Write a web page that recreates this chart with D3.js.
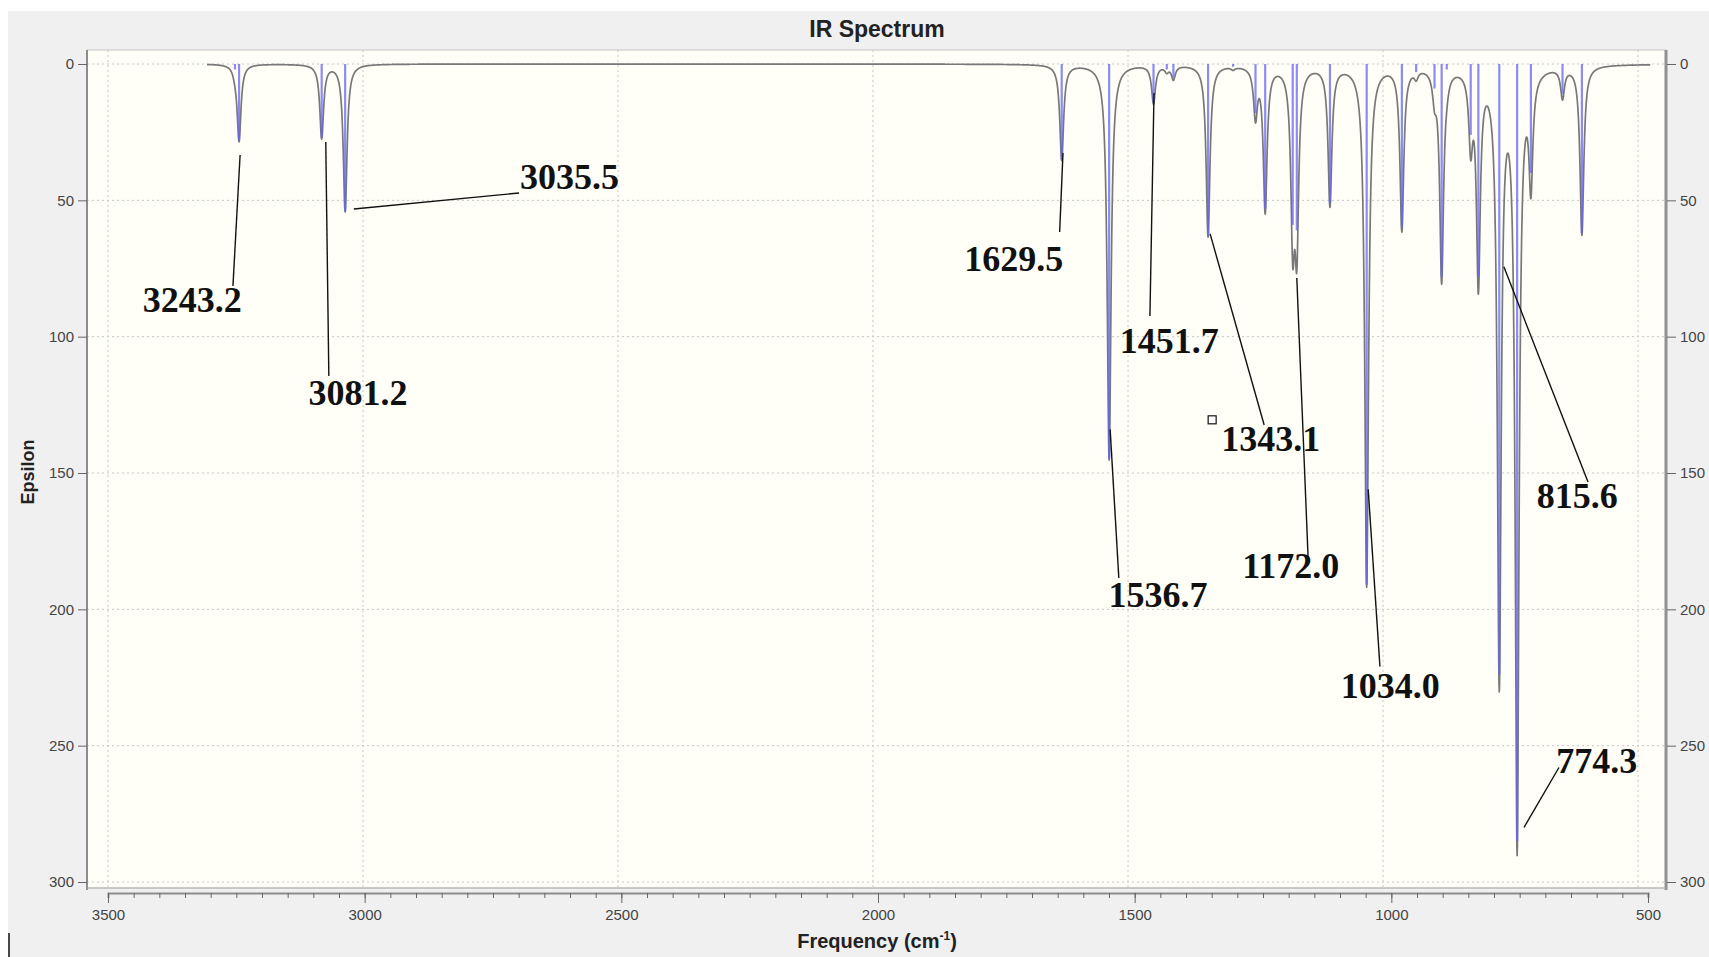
<!DOCTYPE html>
<html>
<head>
<meta charset="utf-8">
<script src="https://cdn.jsdelivr.net/npm/d3@7"></script>
<style>
html, body { margin: 0; padding: 0; background: #fff; }
svg { display: block; }
</style>
</head>
<body>
<svg id="chart" width="1709" height="957"></svg>
<script>
// stick spectrum (cm-1, epsilon)
var freqs   = [3251, 3243, 3081, 3035, 1630, 1537, 1450, 1424, 1411, 1343, 1294, 1250, 1231, 1177, 1169,
               1104, 1032, 963, 935, 899, 885, 875, 828, 813, 772, 737, 710, 648, 610];
var epsilon = [2, 28, 27, 54, 35, 145, 14, 2, 5, 63, 1, 18, 53, 59, 61,
               51, 191, 60, 3, 9, 78, 2, 26, 78, 224, 285, 40, 11, 62];

var xTicks = [3500, 3000, 2500, 2000, 1500, 1000, 500];
var yTicks = [0, 50, 100, 150, 200, 250, 300];

// hand written peak labels: text, label point, leader line ends (data units)
var peakLabels = ["3243.2", "3081.2", "3035.5", "1629.5", "1451.7", "1343.1", "1536.7", "1172.0", "1034.0", "815.6", "774.3"];
var labelAt    = [[3335, 91], [3010, 125], [2595, 46], [1724, 76], [1419, 106], [1220, 142], [1441, 199], [1181, 188.5], [986, 232.5], [619, 163], [581, 260]];
var leaderFrom = [[3241, 33.4], [3073, 28.6], [3018, 53.2], [1627.5, 32.6], [1449, 10.6], [1339, 62.3], [1535, 134], [1169, 78.5], [1029, 156], [763, 74.4], [723.5, 280]];
var leaderTo   = [[3255, 81.4], [3067, 114.4], [2694, 47.3], [1634, 61.6], [1457, 92.4], [1233, 132.4], [1518, 188.5], [1147, 180.4], [1006, 221], [598, 153.3], [655, 258]];

var hwhm = 4.5;            // lorentzian half width, cm-1
var curveRange = [3306, 476];

var svg = d3.select("#chart");
var plot = {left: 87, top: 50, right: 1666, bottom: 888};

// data / grid scale and the (slightly shifted) tick scale of the bottom axis
var x = d3.scaleLinear().domain([3500, 500]).range([108, 1638]);
var xAxisScale = d3.scaleLinear().domain([3500, 500]).range([108, 1648]);
var y = d3.scaleLinear().domain([0, 300]).range([64, 882]);

svg.append("rect").attr("x", 8).attr("y", 11).attr("width", 1701).attr("height", 946).attr("fill", "#f0f0f0");

svg.append("text")
    .attr("x", 877).attr("y", 37)
    .attr("text-anchor", "middle")
    .style("font", "bold 23px 'Liberation Sans', Arial, sans-serif")
    .attr("fill", "#222")
    .text("IR Spectrum");

svg.append("rect")
    .attr("x", plot.left).attr("y", plot.top)
    .attr("width", plot.right - plot.left).attr("height", plot.bottom - plot.top)
    .attr("fill", "#fffff8").attr("stroke", "#c4c4c4");

svg.append("clipPath").attr("id", "clip")
    .append("rect")
    .attr("x", plot.left).attr("y", plot.top)
    .attr("width", plot.right - plot.left).attr("height", plot.bottom - plot.top);

// grid
var grid = svg.append("g").attr("stroke", "#c6c6c6").attr("stroke-dasharray", "2,3");
grid.selectAll("line.v").data(xTicks).enter().append("line")
    .attr("x1", function(d) { return x(d); }).attr("x2", function(d) { return x(d); })
    .attr("y1", plot.top).attr("y2", plot.bottom);
grid.selectAll("line.h").data(yTicks).enter().append("line")
    .attr("y1", function(d) { return y(d); }).attr("y2", function(d) { return y(d); })
    .attr("x1", plot.left).attr("x2", plot.right);

var g = svg.append("g").attr("clip-path", "url(#clip)");

// broadened spectrum built from the sticks
var pts = [];
for (var f = curveRange[0]; f >= curveRange[1]; f -= 0.5) {
    var s = 0;
    freqs.forEach(function(c, i) {
        var u = (f - c) / hwhm;
        s += epsilon[i] / (1 + u * u);
    });
    pts.push([f, s]);
}
g.append("path")
    .datum(pts)
    .attr("fill", "none")
    .attr("stroke", "#787878").attr("stroke-width", 1.7)
    .attr("stroke-linejoin", "round")
    .attr("d", d3.line().x(function(d) { return x(d[0]); }).y(function(d) { return y(d[1]); }));

// sticks
g.selectAll("line.stick").data(freqs).enter().append("line")
    .attr("class", "stick")
    .attr("x1", function(d) { return x(d); }).attr("x2", function(d) { return x(d); })
    .attr("y1", y(0))
    .attr("y2", function(d, i) { return y(epsilon[i]); })
    .attr("stroke", "#6464f2").attr("stroke-width", 2.2).attr("stroke-opacity", 0.75);

// frame edges
svg.append("line").attr("x1", plot.left).attr("x2", plot.left).attr("y1", plot.top).attr("y2", plot.bottom + 2)
    .attr("stroke", "#8c8c8c").attr("stroke-width", 2);
svg.append("line").attr("x1", plot.right).attr("x2", plot.right).attr("y1", plot.top).attr("y2", plot.bottom + 2)
    .attr("stroke", "#909090").attr("stroke-width", 3);
svg.append("line").attr("x1", plot.left).attr("x2", plot.right).attr("y1", plot.bottom).attr("y2", plot.bottom)
    .attr("stroke", "#b0b0b0").attr("stroke-width", 1);

// axes
var tickFont = "15px 'Liberation Sans', Arial, sans-serif";
svg.append("g")
    .attr("transform", "translate(0," + (plot.bottom + 5) + ")")
    .call(d3.axisBottom(xAxisScale).tickValues(d3.range(3500, 499, -50)).tickSize(5).tickFormat(""))
    .call(function(a) { a.select(".domain").attr("stroke", "#8c8c8c").attr("stroke-width", 2); a.selectAll("line").attr("stroke", "#666"); });
svg.append("g")
    .attr("transform", "translate(0," + (plot.bottom + 5) + ")")
    .call(d3.axisBottom(xAxisScale).tickValues(xTicks).tickSize(10).tickPadding(6).tickFormat(d3.format("d")))
    .call(function(a) { a.select(".domain").remove(); a.selectAll("line").attr("stroke", "#666");
        a.selectAll("text").style("font", tickFont).attr("fill", "#444"); });

svg.append("g")
    .attr("transform", "translate(" + plot.left + ",0)")
    .call(d3.axisLeft(y).tickValues(yTicks).tickSize(9).tickPadding(4).tickFormat(d3.format("d")))
    .call(function(a) { a.select(".domain").remove(); a.selectAll("line").attr("stroke", "#666");
        a.selectAll("text").style("font", tickFont).attr("fill", "#444"); });
svg.append("g")
    .attr("transform", "translate(" + (plot.right + 1) + ",0)")
    .call(d3.axisRight(y).tickValues(yTicks).tickSize(9).tickPadding(4).tickFormat(d3.format("d")))
    .call(function(a) { a.select(".domain").remove(); a.selectAll("line").attr("stroke", "#666");
        a.selectAll("text").style("font", tickFont).attr("fill", "#444"); });

svg.append("text")
    .attr("transform", "translate(34,472) rotate(-90)")
    .attr("text-anchor", "middle")
    .style("font", "bold 18px 'Liberation Sans', Arial, sans-serif")
    .attr("fill", "#222")
    .text("Epsilon");

var xt = svg.append("text")
    .attr("x", 877).attr("y", 948)
    .attr("text-anchor", "middle")
    .style("font", "bold 20px 'Liberation Sans', Arial, sans-serif")
    .attr("fill", "#222");
xt.append("tspan").text("Frequency (cm");
xt.append("tspan").attr("dy", -8).style("font-size", "12px").text("-1");
xt.append("tspan").attr("dy", 8).text(")");

// annotations
var ann = svg.append("g");
ann.selectAll("line").data(peakLabels).enter().append("line")
    .attr("x1", function(d, i) { return x(leaderFrom[i][0]); })
    .attr("y1", function(d, i) { return y(leaderFrom[i][1]); })
    .attr("x2", function(d, i) { return x(leaderTo[i][0]); })
    .attr("y2", function(d, i) { return y(leaderTo[i][1]); })
    .attr("stroke", "#111").attr("stroke-width", 1.4);
ann.selectAll("text").data(peakLabels).enter().append("text")
    .attr("x", function(d, i) { return x(labelAt[i][0]); })
    .attr("y", function(d, i) { return y(labelAt[i][1]); })
    .attr("text-anchor", "middle")
    .style("font", "bold 36px 'Liberation Serif', 'Times New Roman', serif")
    .attr("fill", "#111")
    .text(function(d) { return d; });

// stray marks in the screenshot
ann.append("rect").attr("x", x(1335) - 4).attr("y", y(130.5) - 4).attr("width", 8).attr("height", 8)
    .attr("fill", "#fff").attr("stroke", "#111").attr("stroke-width", 1.2);
svg.append("line").attr("x1", 9).attr("x2", 9).attr("y1", 933).attr("y2", 957).attr("stroke", "#111").attr("stroke-width", 1.5);
</script>
</body>
</html>
